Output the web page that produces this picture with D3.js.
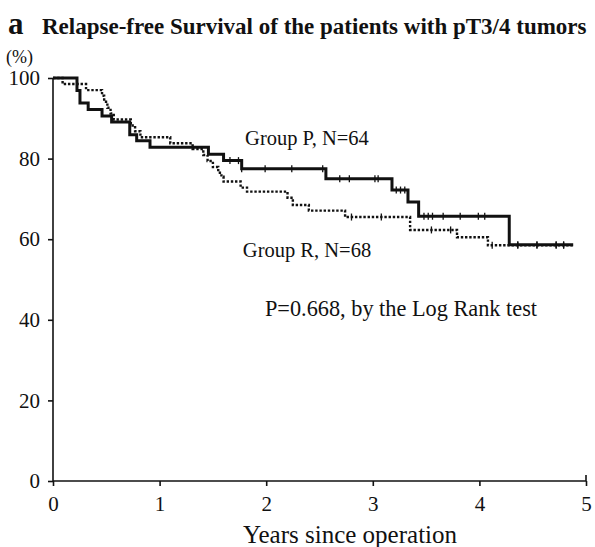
<!DOCTYPE html>
<html>
<head>
  <meta charset="utf-8">
  <script src="https://d3js.org/d3.v7.min.js"></script>
  <style>
    body { margin: 0; background: #fff; }
    text { font-family: "Liberation Serif", "Times New Roman", serif; fill: #111; }
  </style>
</head>
<body>
<script>
  // Group P (solid), step times in years and survival %
  var pTimes = [0, 0.225, 0.253, 0.33, 0.46, 0.55, 0.72, 0.785, 0.91, 1.458, 1.6, 1.77, 2.56, 3.18, 3.33, 3.43, 4.28, 4.88];
  var pSurv  = [100, 96.9, 93.8, 92.2, 90.6, 89.1, 85.9, 84.4, 82.8, 81.1, 79.5, 77.5, 75.0, 72.2, 69.2, 65.7, 58.6, 58.6];
  var pCensor = [1.66, 1.74, 1.77, 1.99, 2.24, 2.53, 2.69, 2.78, 3.02, 3.05, 3.22, 3.26, 3.30, 3.48, 3.52, 3.56, 3.66, 3.82, 3.99, 4.05, 4.36, 4.54, 4.72, 4.79];

  // Group R (dotted)
  var rTimes = [0, 0.09, 0.31, 0.46, 0.48, 0.51, 0.54, 0.57, 0.73, 0.77, 0.82, 1.10, 1.31, 1.41, 1.45, 1.50, 1.55, 1.58, 1.60, 1.76, 1.82, 2.20, 2.25, 2.40, 2.74, 3.35, 3.79, 4.08, 4.88];
  var rSurv  = [100, 98.5, 97.0, 95.6, 94.1, 92.6, 91.2, 89.7, 88.2, 86.8, 85.3, 83.8, 82.4, 80.9, 79.4, 77.9, 76.5, 75.5, 74.3, 72.8, 71.8, 70.3, 68.5, 67.1, 65.5, 62.3, 60.5, 58.5, 58.5];
  var rCensor = [2.80, 3.08, 3.55, 3.73, 4.12, 4.36, 4.54, 4.72, 4.79];

  var xTicks = [0, 1, 2, 3, 4, 5];
  var yTicks = [0, 20, 40, 60, 80, 100];

  var width = 595, height = 547;
  var svg = d3.select("body").append("svg")
    .attr("width", width)
    .attr("height", height);

  var x = d3.scaleLinear().domain([0, 5]).range([53, 586]);
  var y = d3.scaleLinear().domain([0, 100]).range([481, 78]);

  //title
  svg.append("text").attr("x", 8).attr("y", 34)
    .style("font-weight", "bold").style("font-size", "31px").text("a");
  svg.append("text").attr("x", 42).attr("y", 34)
    .style("font-weight", "bold").style("font-size", "23px")
    .text("Relapse-free Survival of the patients with pT3/4 tumors");
  svg.append("text").attr("x", 6).attr("y", 63)
    .style("font-size", "18px").text("(%)");

  //axes
  var gx = svg.append("g").attr("transform", "translate(0," + y(0) + ")")
    .call(d3.axisBottom(x).tickValues(xTicks).tickSize(5).tickPadding(10).tickFormat(d3.format("d")));
  var gy = svg.append("g").attr("transform", "translate(" + x(0) + ",0)")
    .call(d3.axisLeft(y).tickValues(yTicks).tickSize(5).tickPadding(8).tickFormat(d3.format("d")));

  [gx, gy].forEach(function (g) {
    g.select(".domain").attr("stroke", "#111").attr("stroke-width", 1.6);
    g.selectAll(".tick line").attr("stroke", "#111").attr("stroke-width", 1.6);
    g.selectAll(".tick text").style("font-size", "21px")
      .style("font-family", "Liberation Serif, serif").attr("fill", "#111");
  });
  gx.select(".domain").attr("d", "M" + x(0) + ",0H" + x(5));
  gy.select(".domain").attr("d", "M0," + y(100) + "V" + y(0));
  // end tick at 5 also goes up
  gx.append("line").attr("x1", x(5)).attr("x2", x(5)).attr("y1", -6).attr("y2", 0)
    .attr("stroke", "#111").attr("stroke-width", 1.6);

  svg.append("text").attr("x", 350).attr("y", 543).attr("text-anchor", "middle")
    .style("font-size", "25px").text("Years since operation");

  //survival curves
  var line = d3.line()
    .x(function (d) { return x(d[0]); })
    .y(function (d) { return y(d[1]); })
    .curve(d3.curveStepAfter);

  function pairs(t, s) { return t.map(function (v, i) { return [v, s[i]]; }); }
  function survAt(t, times, surv) {
    var i = d3.bisectRight(times, t) - 1;
    return surv[Math.max(0, i)];
  }

  svg.append("path").datum(pairs(rTimes, rSurv))
    .attr("d", line).attr("fill", "none").attr("stroke", "#111")
    .attr("stroke-width", 2.4).attr("stroke-dasharray", "2.4,1.8");
  svg.append("path").datum(pairs(pTimes, pSurv))
    .attr("d", line).attr("fill", "none").attr("stroke", "#111")
    .attr("stroke-width", 3);

  //censor marks
  function censors(list, times, surv) {
    svg.append("g").selectAll("line").data(list).join("line")
      .attr("x1", function (d) { return x(d); })
      .attr("x2", function (d) { return x(d); })
      .attr("y1", function (d) { return y(survAt(d, times, surv)) - 3.5; })
      .attr("y2", function (d) { return y(survAt(d, times, surv)) + 3.5; })
      .attr("stroke", "#111").attr("stroke-width", 1.3);
  }
  censors(pCensor, pTimes, pSurv);
  censors(rCensor, rTimes, rSurv);

  //annotations
  svg.append("text").attr("x", 307).attr("y", 145).attr("text-anchor", "middle")
    .style("font-size", "20.5px").text("Group P, N=64");
  svg.append("text").attr("x", 307).attr("y", 257).attr("text-anchor", "middle")
    .style("font-size", "20.5px").text("Group R, N=68");
  svg.append("text").attr("x", 401).attr("y", 316).attr("text-anchor", "middle")
    .style("font-size", "22.3px").text("P=0.668, by the Log Rank test");
</script>
</body>
</html>
